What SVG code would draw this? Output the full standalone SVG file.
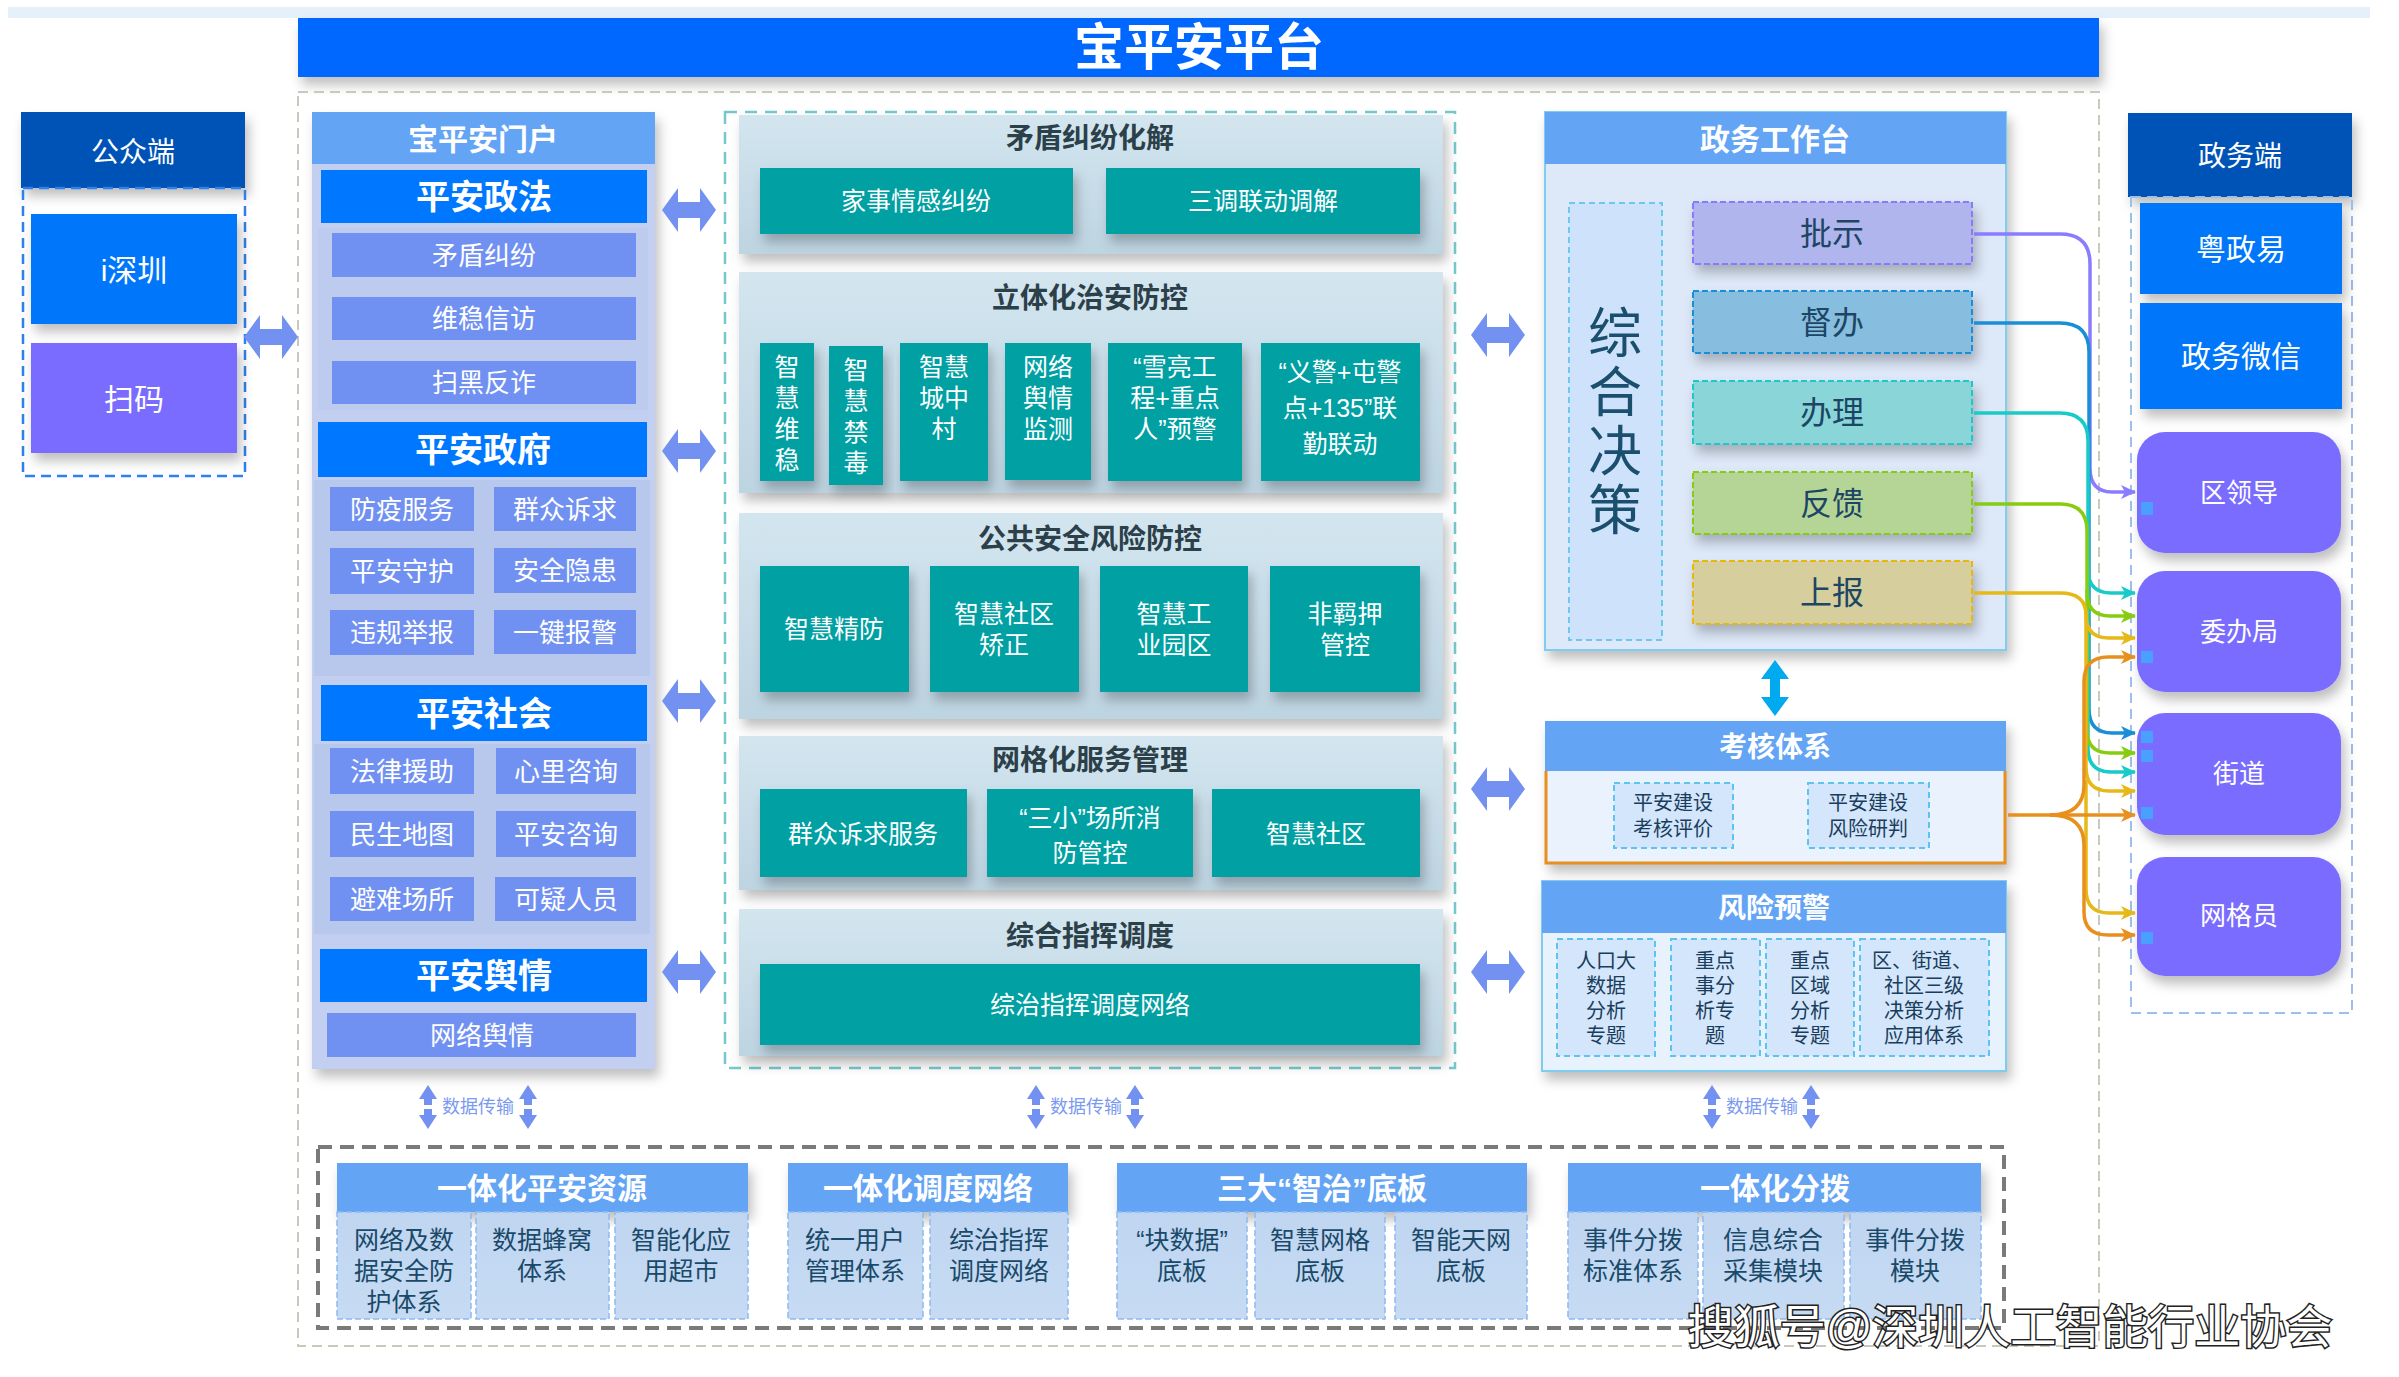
<svg xmlns="http://www.w3.org/2000/svg" width="2399" height="1377" viewBox="0 0 2399 1377">
<style>
text{font-family:'Liberation Sans','Noto Sans CJK SC',sans-serif;text-anchor:middle;dominant-baseline:central}
.w{fill:#fff}
.bd{font-weight:bold}
.hdr{fill:#63a4f5}
.blue{fill:#0077fa}
.navy{fill:#0052b6}
.purp{fill:#7a6cff}
.item{fill:#7191f2}
.teal{fill:#02a0a3}
.sec{fill:url(#secg)}
.sect{fill:#2c4049;font-weight:bold;font-size:28px}
.tt{fill:#fff;font-size:25px}
.dk{fill:#1c4664}
.bi{fill:url(#botg);stroke:#8dbaf0;stroke-width:1.5;stroke-dasharray:6 3}
.bt{fill:#1a4a6a;font-size:25px}
.ri{fill:#d3e6fb;stroke:#5cc4ee;stroke-width:2;stroke-dasharray:6 4}
.rt{fill:#1a3d5c;font-size:20px}
.cn{fill:none;stroke-width:3.5}
.dt{fill:#7b9af0;font-size:18px}
.zc{fill:#1a4f6e;font-size:54px}
</style>
<defs>
<filter id="sh" x="-10%" y="-10%" width="130%" height="140%"><feDropShadow dx="4" dy="8" stdDeviation="6" flood-color="#000" flood-opacity="0.25"/></filter>
<linearGradient id="secg" x1="0" y1="0" x2="0" y2="1"><stop offset="0" stop-color="#d3e6f0"/><stop offset="1" stop-color="#bdd4e1"/></linearGradient>
<linearGradient id="botg" x1="0" y1="0" x2="0" y2="1"><stop offset="0" stop-color="#c0d5f0"/><stop offset="1" stop-color="#c6dbf3"/></linearGradient>
<path id="dbl" d="M-27,0 L-11,-22 V-8 H11 V-22 L27,0 L11,22 V8 H-11 V22 Z" fill="#7391f0"/>
<path id="vdbl" d="M0,-28 L14,-9 H5 V9 H14 L0,28 L-14,9 H-5 V-9 H-14 Z" fill="#00aaee"/>
<path id="dat" d="M0,-22 L9,-8 H4 V-2 H-4 V-8 H-9 Z M0,22 L9,8 H4 V2 H-4 V8 H-9 Z" fill="#7391f0"/>
<marker id="mP" markerWidth="16" markerHeight="16" refX="14" refY="8" orient="auto" markerUnits="userSpaceOnUse"><path d="M0,1 L15,8 L0,15 L4,8 Z" fill="#8a7cff"/></marker>
<marker id="mB" markerWidth="16" markerHeight="16" refX="14" refY="8" orient="auto" markerUnits="userSpaceOnUse"><path d="M0,1 L15,8 L0,15 L4,8 Z" fill="#1a8fd8"/></marker>
<marker id="mC" markerWidth="16" markerHeight="16" refX="14" refY="8" orient="auto" markerUnits="userSpaceOnUse"><path d="M0,1 L15,8 L0,15 L4,8 Z" fill="#18cbc8"/></marker>
<marker id="mG" markerWidth="16" markerHeight="16" refX="14" refY="8" orient="auto" markerUnits="userSpaceOnUse"><path d="M0,1 L15,8 L0,15 L4,8 Z" fill="#88cc11"/></marker>
<marker id="mY" markerWidth="16" markerHeight="16" refX="14" refY="8" orient="auto" markerUnits="userSpaceOnUse"><path d="M0,1 L15,8 L0,15 L4,8 Z" fill="#e6b818"/></marker>
<marker id="mO" markerWidth="16" markerHeight="16" refX="14" refY="8" orient="auto" markerUnits="userSpaceOnUse"><path d="M0,1 L15,8 L0,15 L4,8 Z" fill="#e8901e"/></marker>
</defs>

<rect x="0" y="0" width="2399" height="1377" fill="#fff"/>
<rect x="8" y="7" width="2362" height="11" fill="#e6f0fb"/>

<g id="title">
<rect x="298" y="18" width="1801" height="59" fill="#0068ff" filter="url(#sh)"/>
<text x="1199" y="48" class="w bd" font-size="50">宝平安平台</text>
</g>

<rect id="outer-frame" x="298" y="92" width="1801" height="1254" fill="none" stroke="#c9c9bb" stroke-width="2" stroke-dasharray="10 6"/>

<!-- left public side -->
<g id="public">
<rect x="21" y="112" width="224" height="76" class="navy" filter="url(#sh)"/>
<text x="133" y="152" class="w" font-size="28">公众端</text>
<rect x="23" y="188" width="222" height="288" fill="none" stroke="#2f7fef" stroke-width="2.5" stroke-dasharray="10 6"/>
</g>
<g id="ishenzhen"><rect x="31" y="214" width="206" height="110" class="blue" filter="url(#sh)"/><text x="134" y="270" class="w" font-size="30">i深圳</text></g>
<g id="saoma"><rect x="31" y="343" width="206" height="110" class="purp" filter="url(#sh)"/><text x="134" y="399" class="w" font-size="30">扫码</text></g>

<!-- left portal panel -->
<g id="portal">
<rect x="312" y="112" width="343" height="957" fill="#c2cff0" filter="url(#sh)"/>
<rect x="318" y="228" width="330" height="182" fill="#bccbee"/>
<rect x="314" y="480" width="336" height="196" fill="#b8c8ec"/>
<rect x="314" y="744" width="336" height="190" fill="#b8c8ec"/>
<rect x="312" y="112" width="343" height="52" class="hdr"/>
<text x="483" y="139" class="w bd" font-size="30">宝平安门户</text>
</g>
<g id="zhengfa">
<rect x="321" y="170" width="326" height="53" fill="#0077ff"/>
<text x="484" y="197" class="w bd" font-size="34">平安政法</text>
<rect x="332" y="233" width="304" height="44" class="item"/><text x="484" y="256" class="w" font-size="26">矛盾纠纷</text>
<rect x="332" y="297" width="304" height="43" class="item"/><text x="484" y="319" class="w" font-size="26">维稳信访</text>
<rect x="332" y="361" width="304" height="43" class="item"/><text x="484" y="383" class="w" font-size="26">扫黑反诈</text>
</g>
<g id="zhengfu">
<rect x="318" y="422" width="329" height="55" fill="#0077ff"/>
<text x="483" y="450" class="w bd" font-size="34">平安政府</text>
<rect x="330" y="487" width="144" height="44" class="item"/><text x="402" y="510" class="w" font-size="26">防疫服务</text>
<rect x="494" y="487" width="142" height="44" class="item"/><text x="565" y="510" class="w" font-size="26">群众诉求</text>
<rect x="330" y="548" width="144" height="46" class="item"/><text x="402" y="572" class="w" font-size="26">平安守护</text>
<rect x="494" y="548" width="142" height="45" class="item"/><text x="565" y="571" class="w" font-size="26">安全隐患</text>
<rect x="330" y="610" width="144" height="45" class="item"/><text x="402" y="633" class="w" font-size="26">违规举报</text>
<rect x="494" y="610" width="142" height="44" class="item"/><text x="565" y="633" class="w" font-size="26">一键报警</text>
</g>
<g id="shehui">
<rect x="321" y="685" width="326" height="56" fill="#0077ff"/>
<text x="484" y="714" class="w bd" font-size="34">平安社会</text>
<rect x="330" y="748" width="144" height="46" class="item"/><text x="402" y="772" class="w" font-size="26">法律援助</text>
<rect x="496" y="748" width="140" height="46" class="item"/><text x="566" y="772" class="w" font-size="26">心里咨询</text>
<rect x="330" y="811" width="144" height="46" class="item"/><text x="402" y="835" class="w" font-size="26">民生地图</text>
<rect x="496" y="811" width="140" height="46" class="item"/><text x="566" y="835" class="w" font-size="26">平安咨询</text>
<rect x="330" y="877" width="144" height="44" class="item"/><text x="402" y="900" class="w" font-size="26">避难场所</text>
<rect x="495" y="877" width="141" height="44" class="item"/><text x="566" y="900" class="w" font-size="26">可疑人员</text>
</g>
<g id="yuqing">
<rect x="320" y="949" width="327" height="53" fill="#0077ff"/>
<text x="484" y="976" class="w bd" font-size="34">平安舆情</text>
<rect x="327" y="1013" width="309" height="44" class="item"/><text x="482" y="1036" class="w" font-size="26">网络舆情</text>
</g>

<!-- middle -->
<rect id="mid-frame" x="725" y="112" width="730" height="956" fill="none" stroke="#74c8cc" stroke-width="2.5" stroke-dasharray="12 8"/>
<g id="maodun">
<rect x="739" y="115" width="704" height="139" class="sec" filter="url(#sh)"/>
<text x="1090" y="138" class="sect">矛盾纠纷化解</text>
<rect x="760" y="168" width="313" height="66" class="teal" filter="url(#sh)"/><text x="916" y="201" class="tt">家事情感纠纷</text>
<rect x="1106" y="168" width="314" height="66" class="teal" filter="url(#sh)"/><text x="1263" y="201" class="tt">三调联动调解</text>
</g>
<g id="litihua">
<rect x="739" y="272" width="704" height="221" class="sec" filter="url(#sh)"/>
<text x="1090" y="298" class="sect">立体化治安防控</text>
<rect x="760" y="343" width="54" height="138" class="teal" filter="url(#sh)"/>
<text x="787" y="367" class="tt" font-size="27">智</text><text x="787" y="398" class="tt" font-size="27">慧</text><text x="787" y="429" class="tt" font-size="27">维</text><text x="787" y="460" class="tt" font-size="27">稳</text>
<rect x="829" y="346" width="54" height="139" class="teal" filter="url(#sh)"/>
<text x="856" y="370" class="tt" font-size="27">智</text><text x="856" y="401" class="tt" font-size="27">慧</text><text x="856" y="432" class="tt" font-size="27">禁</text><text x="856" y="463" class="tt" font-size="27">毒</text>
<rect x="900" y="343" width="88" height="138" class="teal" filter="url(#sh)"/>
<text x="944" y="367" class="tt" font-size="27">智慧</text><text x="944" y="398" class="tt" font-size="27">城中</text><text x="944" y="429" class="tt" font-size="27">村</text>
<rect x="1005" y="343" width="86" height="137" class="teal" filter="url(#sh)"/>
<text x="1048" y="367" class="tt" font-size="27">网络</text><text x="1048" y="398" class="tt" font-size="27">舆情</text><text x="1048" y="429" class="tt" font-size="27">监测</text>
<rect x="1108" y="343" width="134" height="138" class="teal" filter="url(#sh)"/>
<text x="1175" y="367" class="tt" font-size="27">“雪亮工</text><text x="1175" y="398" class="tt" font-size="27">程+重点</text><text x="1175" y="429" class="tt" font-size="27">人”预警</text>
<rect x="1261" y="343" width="159" height="138" class="teal" filter="url(#sh)"/>
<text x="1340" y="372" class="tt" font-size="27">“义警+屯警</text><text x="1340" y="408" class="tt" font-size="27">点+135”联</text><text x="1340" y="444" class="tt" font-size="27">勤联动</text>
</g>
<g id="gonggong">
<rect x="739" y="513" width="704" height="206" class="sec" filter="url(#sh)"/>
<text x="1090" y="539" class="sect">公共安全风险防控</text>
<rect x="760" y="566" width="149" height="126" class="teal" filter="url(#sh)"/><text x="834" y="629" class="tt">智慧精防</text>
<rect x="930" y="566" width="149" height="126" class="teal" filter="url(#sh)"/><text x="1004" y="614" class="tt">智慧社区</text><text x="1004" y="645" class="tt">矫正</text>
<rect x="1100" y="566" width="148" height="126" class="teal" filter="url(#sh)"/><text x="1174" y="614" class="tt">智慧工</text><text x="1174" y="645" class="tt">业园区</text>
<rect x="1270" y="566" width="150" height="126" class="teal" filter="url(#sh)"/><text x="1345" y="614" class="tt">非羁押</text><text x="1345" y="645" class="tt">管控</text>
</g>
<g id="wangge">
<rect x="739" y="736" width="704" height="154" class="sec" filter="url(#sh)"/>
<text x="1090" y="760" class="sect">网格化服务管理</text>
<rect x="760" y="789" width="207" height="88" class="teal" filter="url(#sh)"/><text x="863" y="834" class="tt">群众诉求服务</text>
<rect x="987" y="789" width="206" height="88" class="teal" filter="url(#sh)"/><text x="1090" y="818" class="tt">“三小”场所消</text><text x="1090" y="853" class="tt">防管控</text>
<rect x="1212" y="789" width="208" height="88" class="teal" filter="url(#sh)"/><text x="1316" y="834" class="tt">智慧社区</text>
</g>
<g id="zhihui">
<rect x="739" y="909" width="704" height="147" class="sec" filter="url(#sh)"/>
<text x="1090" y="936" class="sect">综合指挥调度</text>
<rect x="760" y="964" width="660" height="81" class="teal" filter="url(#sh)"/><text x="1090" y="1005" class="tt">综治指挥调度网络</text>
</g>

<!-- gov workbench -->
<g id="workbench">
<rect x="1545" y="112" width="461" height="538" fill="#dde8f8" stroke="#7fcdf0" stroke-width="2" filter="url(#sh)"/>
<rect x="1545" y="112" width="461" height="52" class="hdr"/>
<text x="1775" y="139" class="w bd" font-size="30">政务工作台</text>
<rect x="1569" y="203" width="93" height="437" fill="#cfe2fb" stroke="#6cc8ee" stroke-width="2" stroke-dasharray="6 4"/>
<text x="1615" y="334" class="zc">综</text>
<text x="1615" y="393" class="zc">合</text>
<text x="1615" y="452" class="zc">决</text>
<text x="1615" y="511" class="zc">策</text>
</g>
<g id="pishi"><rect x="1693" y="202" width="279" height="62" fill="#b1b5ee" stroke="#8a78ff" stroke-width="2" stroke-dasharray="6 3" filter="url(#sh)"/><text x="1832" y="234" class="dk" font-size="32">批示</text></g>
<g id="duban"><rect x="1693" y="291" width="279" height="62" fill="#87bee0" stroke="#1890d8" stroke-width="2" stroke-dasharray="6 3" filter="url(#sh)"/><text x="1832" y="323" class="dk" font-size="32">督办</text></g>
<g id="banli"><rect x="1693" y="381" width="279" height="63" fill="#8ad5d8" stroke="#1fc9c9" stroke-width="2" stroke-dasharray="6 3" filter="url(#sh)"/><text x="1832" y="413" class="dk" font-size="32">办理</text></g>
<g id="fankui"><rect x="1693" y="472" width="279" height="62" fill="#b5d596" stroke="#88cc10" stroke-width="2" stroke-dasharray="6 3" filter="url(#sh)"/><text x="1832" y="504" class="dk" font-size="32">反馈</text></g>
<g id="shangbao"><rect x="1693" y="561" width="279" height="63" fill="#d6ce9c" stroke="#e8b810" stroke-width="2" stroke-dasharray="6 3" filter="url(#sh)"/><text x="1832" y="593" class="dk" font-size="32">上报</text></g>

<g id="kaohe">
<rect x="1545" y="721" width="461" height="143" fill="#eaf2fd" filter="url(#sh)"/>
<path d="M1546,771 V863 H2005 V771" fill="none" stroke="#e8901e" stroke-width="3"/>
<rect x="1545" y="721" width="461" height="50" class="hdr"/>
<text x="1775" y="747" class="w bd" font-size="28">考核体系</text>
<rect x="1614" y="783" width="119" height="65" class="ri"/><text x="1673" y="803" class="rt">平安建设</text><text x="1673" y="829" class="rt">考核评价</text>
<rect x="1808" y="783" width="121" height="65" class="ri"/><text x="1868" y="803" class="rt">平安建设</text><text x="1868" y="829" class="rt">风险研判</text>
</g>
<g id="fengxian">
<rect x="1542" y="881" width="464" height="190" fill="#e8f2fd" stroke="#7ecdf0" stroke-width="2" filter="url(#sh)"/>
<rect x="1542" y="881" width="464" height="52" class="hdr"/>
<text x="1774" y="908" class="w bd" font-size="28">风险预警</text>
<rect x="1557" y="939" width="98" height="117" class="ri"/>
<text x="1606" y="961" class="rt">人口大</text><text x="1606" y="986" class="rt">数据</text><text x="1606" y="1011" class="rt">分析</text><text x="1606" y="1036" class="rt">专题</text>
<rect x="1671" y="939" width="89" height="117" class="ri"/>
<text x="1715" y="961" class="rt">重点</text><text x="1715" y="986" class="rt">事分</text><text x="1715" y="1011" class="rt">析专</text><text x="1715" y="1036" class="rt">题</text>
<rect x="1766" y="939" width="88" height="117" class="ri"/>
<text x="1810" y="961" class="rt">重点</text><text x="1810" y="986" class="rt">区域</text><text x="1810" y="1011" class="rt">分析</text><text x="1810" y="1036" class="rt">专题</text>
<rect x="1860" y="939" width="129" height="117" class="ri"/>
<text x="1922" y="961" class="rt">区、街道、</text><text x="1924" y="986" class="rt">社区三级</text><text x="1924" y="1011" class="rt">决策分析</text><text x="1924" y="1036" class="rt">应用体系</text>
</g>

<!-- right gov side -->
<g id="zhengwuduan">
<rect x="2128" y="113" width="224" height="84" class="navy" filter="url(#sh)"/>
<text x="2240" y="156" class="w" font-size="28">政务端</text>
<rect x="2131" y="197" width="221" height="816" fill="none" stroke="#9cc0ec" stroke-width="2" stroke-dasharray="10 6"/>
</g>
<g id="yuezhengyi"><rect x="2140" y="203" width="202" height="91" class="blue" filter="url(#sh)"/><text x="2241" y="249" class="w" font-size="30">粤政易</text></g>
<g id="zwweixin"><rect x="2140" y="303" width="202" height="106" class="blue" filter="url(#sh)"/><text x="2241" y="356" class="w" font-size="30">政务微信</text></g>
<g id="qulingdao"><rect x="2137" y="432" width="204" height="121" rx="28" class="purp" filter="url(#sh)"/><text x="2239" y="493" class="w" font-size="26">区领导</text><rect x="2141" y="502" width="12" height="13" fill="#4aa0ff"/></g>
<g id="weibanju"><rect x="2137" y="571" width="204" height="121" rx="28" class="purp" filter="url(#sh)"/><text x="2239" y="632" class="w" font-size="26">委办局</text><rect x="2141" y="651" width="12" height="12" fill="#4aa0ff"/></g>
<g id="jiedao"><rect x="2137" y="713" width="204" height="122" rx="28" class="purp" filter="url(#sh)"/><text x="2239" y="774" class="w" font-size="26">街道</text><rect x="2141" y="731" width="12" height="12" fill="#4aa0ff"/><rect x="2141" y="750" width="12" height="12" fill="#4aa0ff"/><rect x="2141" y="807" width="12" height="12" fill="#4aa0ff"/></g>
<g id="wanggeyuan"><rect x="2137" y="857" width="204" height="119" rx="28" class="purp" filter="url(#sh)"/><text x="2239" y="916" class="w" font-size="26">网格员</text><rect x="2141" y="932" width="12" height="12" fill="#4aa0ff"/></g>

<!-- bottom -->
<rect id="bottom-frame" x="318" y="1147" width="1686" height="181" fill="none" stroke="#7a7a7a" stroke-width="4" stroke-dasharray="14 8"/>
<g id="ziyuan">
<rect x="337" y="1163" width="411" height="49" class="hdr" filter="url(#sh)"/>
<text x="542" y="1188" class="w bd" font-size="30">一体化平安资源</text>
<rect x="337" y="1212" width="134" height="107" class="bi"/><text x="404" y="1240" class="bt">网络及数</text><text x="404" y="1271" class="bt">据安全防</text><text x="404" y="1302" class="bt">护体系</text>
<rect x="476" y="1212" width="133" height="107" class="bi"/><text x="542" y="1240" class="bt">数据蜂窝</text><text x="542" y="1271" class="bt">体系</text>
<rect x="615" y="1212" width="133" height="107" class="bi"/><text x="681" y="1240" class="bt">智能化应</text><text x="681" y="1271" class="bt">用超市</text>
</g>
<g id="diaodu">
<rect x="788" y="1163" width="280" height="49" class="hdr" filter="url(#sh)"/>
<text x="928" y="1188" class="w bd" font-size="30">一体化调度网络</text>
<rect x="788" y="1212" width="135" height="107" class="bi"/><text x="855" y="1240" class="bt">统一用户</text><text x="855" y="1271" class="bt">管理体系</text>
<rect x="930" y="1212" width="138" height="107" class="bi"/><text x="999" y="1240" class="bt">综治指挥</text><text x="999" y="1271" class="bt">调度网络</text>
</g>
<g id="diban">
<rect x="1117" y="1163" width="410" height="49" class="hdr" filter="url(#sh)"/>
<text x="1322" y="1188" class="w bd" font-size="30">三大“智治”底板</text>
<rect x="1117" y="1212" width="130" height="107" class="bi"/><text x="1182" y="1240" class="bt">“块数据”</text><text x="1182" y="1271" class="bt">底板</text>
<rect x="1255" y="1212" width="130" height="107" class="bi"/><text x="1320" y="1240" class="bt">智慧网格</text><text x="1320" y="1271" class="bt">底板</text>
<rect x="1395" y="1212" width="132" height="107" class="bi"/><text x="1461" y="1240" class="bt">智能天网</text><text x="1461" y="1271" class="bt">底板</text>
</g>
<g id="fenbo">
<rect x="1568" y="1163" width="413" height="49" class="hdr" filter="url(#sh)"/>
<text x="1775" y="1188" class="w bd" font-size="30">一体化分拨</text>
<rect x="1568" y="1212" width="130" height="107" class="bi"/><text x="1633" y="1240" class="bt">事件分拨</text><text x="1633" y="1271" class="bt">标准体系</text>
<rect x="1703" y="1212" width="141" height="107" class="bi"/><text x="1773" y="1240" class="bt">信息综合</text><text x="1773" y="1271" class="bt">采集模块</text>
<rect x="1850" y="1212" width="131" height="107" class="bi"/><text x="1915" y="1240" class="bt">事件分拨</text><text x="1915" y="1271" class="bt">模块</text>
</g>

<!-- connectors -->
<g id="connectors">
<use href="#dbl" transform="translate(271,337)"/>
<use href="#dbl" transform="translate(689,210)"/>
<use href="#dbl" transform="translate(689,451)"/>
<use href="#dbl" transform="translate(689,701)"/>
<use href="#dbl" transform="translate(689,972)"/>
<use href="#dbl" transform="translate(1498,335)"/>
<use href="#dbl" transform="translate(1498,789)"/>
<use href="#dbl" transform="translate(1498,972)"/>
<use href="#vdbl" transform="translate(1775,688)"/>
<use href="#dat" transform="translate(428,1107)"/>
<use href="#dat" transform="translate(528,1107)"/>
<text x="478" y="1107" class="dt">数据传输</text>
<use href="#dat" transform="translate(1036,1107)"/>
<use href="#dat" transform="translate(1135,1107)"/>
<text x="1086" y="1107" class="dt">数据传输</text>
<use href="#dat" transform="translate(1712,1107)"/>
<use href="#dat" transform="translate(1811,1107)"/>
<text x="1762" y="1107" class="dt">数据传输</text>

<path class="cn" stroke="#8a7cff" marker-end="url(#mP)" d="M1974,234 H2060 Q2090,234 2090,264 V468 Q2090,492 2112,492 H2135"/>
<path class="cn" stroke="#1a8fd8" marker-end="url(#mB)" d="M1974,323 H2060 Q2089,323 2089,352 V709 Q2089,733 2112,733 H2135"/>
<path class="cn" stroke="#18cbc8" marker-end="url(#mC)" d="M1974,413 H2060 Q2088,413 2088,441 V569 Q2088,593 2111,593 H2135"/>
<path class="cn" stroke="#18cbc8" marker-end="url(#mC)" d="M2088,560 V748 Q2088,772 2111,772 H2135"/>
<path class="cn" stroke="#88cc11" marker-end="url(#mG)" d="M1974,504 H2060 Q2087,504 2087,531 V592 Q2087,616 2110,616 H2135"/>
<path class="cn" stroke="#88cc11" marker-end="url(#mG)" d="M2087,590 V730 Q2087,753 2110,753 H2135"/>
<path class="cn" stroke="#e6b818" marker-end="url(#mY)" d="M1974,593 H2060 Q2086,593 2086,615 Q2086,638 2109,638 H2135"/>
<path class="cn" stroke="#e6b818" marker-end="url(#mY)" d="M2086,612 V767 Q2086,791 2109,791 H2135"/>
<path class="cn" stroke="#e6b818" marker-end="url(#mY)" d="M2086,780 V889 Q2086,913 2109,913 H2135"/>
<path class="cn" stroke="#e8901e" marker-end="url(#mO)" d="M2008,815 H2135"/>
<path class="cn" stroke="#e8901e" marker-end="url(#mO)" d="M2050,815 Q2084,815 2084,785 V682 Q2084,657 2108,657 H2135"/>
<path class="cn" stroke="#e8901e" marker-end="url(#mO)" d="M2050,815 Q2084,815 2084,845 V912 Q2084,935 2108,935 H2135"/>
</g>

<text x="2010" y="1327" fill="#fff" stroke="#222" stroke-width="3" paint-order="stroke" font-size="46">搜狐号@深圳人工智能行业协会</text>
</svg>
